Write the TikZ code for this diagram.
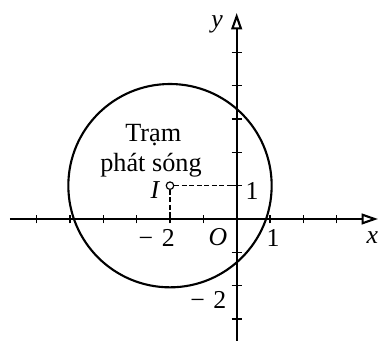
\documentclass[tikz,border=0pt]{standalone}
\usepackage{fontspec}
\setmainfont{Liberation Serif}
\usetikzlibrary{arrows.meta}
\begin{document}
\begin{tikzpicture}[x=0.5cm,y=0.5cm,
  axis/.style={line width=0.9pt,-{Triangle[open,length=7pt,width=4.6pt]}},
  tickmark/.style={line width=0.6pt},
  lbl/.style={font=\fontsize{11}{13}\selectfont,inner sep=0pt},
  txt/.style={font=\fontsize{11.2}{13}\selectfont,inner sep=0pt,anchor=base},
  guide/.style={line width=0.6pt,dash pattern=on 2pt off 1.2pt}]
\useasboundingbox (-7.1,-3.66) rectangle (4.27,6.57);
\coordinate (O) at (0,0);
\coordinate (xs) at (-6.8,0);
\coordinate (xe) at (4.24,0);
\coordinate (ys) at (0,-3.66);
\coordinate (ye) at (0,6.18);
\draw[axis] (xs) -- (xe);
\draw[axis] (ys) -- (ye);
\foreach \i in {-6,...,-1,1,2,3} \draw[tickmark] (\i,-0.13) -- (\i,0.13);
\foreach \j in {-3,-2,-1,1,2,3,4,5} \draw[tickmark] (-0.15,\j) -- (0.15,\j);
\draw[line width=0.9pt] (-2,1) circle[radius=3.05];
\coordinate (Iy) at (0,1);
\coordinate (Ix) at (-2,0);
\node[circle,draw,line width=0.5pt,inner sep=0pt,minimum size=3.2pt] (I) at (-2,1) {};
\draw[guide] (I) -- (Iy);
\draw[guide] (I) -- (Ix);
\node[lbl] (Il) at (-2.45,0.87) {\itshape I};
\node[lbl] (yl) at (-0.59,5.85) {\itshape y};
\node[lbl] (xl) at (4.07,-0.57) {\itshape x};
\node[lbl] (Ol) at (-0.56,-0.53) {\itshape O};
\node[lbl] (x1) at (1.09,-0.57) {1};
\node[lbl] (xm2) at (-2.4,-0.57) {−\,\,2};
\node[lbl] (y1) at (0.46,0.83) {1};
\node[lbl] (ym2) at (-0.85,-2.43) {−\,\,2};
\node[txt] (t1) at (-2.5,2.32) {Trạm};
\node[txt] (t2) at (-2.57,1.42) {phát sóng};
\end{tikzpicture}
\end{document}
